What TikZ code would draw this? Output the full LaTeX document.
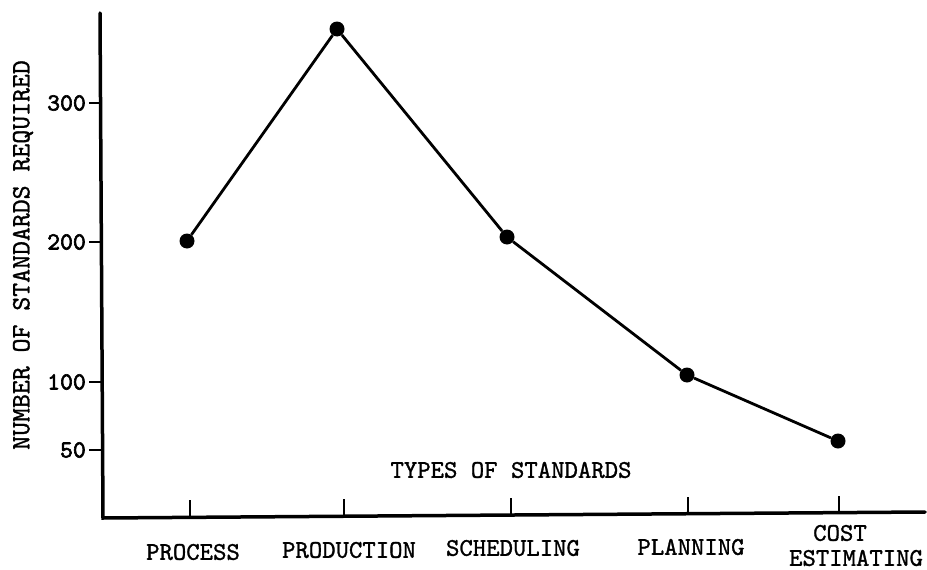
\documentclass[tikz,border=0pt]{standalone}
\usepackage{fontspec}
\newfontfamily\typewriter{lmmono10-regular.otf}[FakeBold=1.2]
\newfontfamily\tickface{lmmono10-regular.otf}[FakeBold=2.5]
\tikzset{dot/.style={circle,fill=black,inner sep=0pt,minimum size=15},
 lbl/.style={font=\typewriter\fontsize{25.5}{22}\selectfont,inner sep=0pt},
 ylbl/.style={font=\typewriter\fontsize{26.5}{22}\selectfont,inner sep=0pt,rotate=90},
 ticklbl/.style={font=\tickface\fontsize{24.5}{22}\selectfont,anchor=east,inner sep=0pt},
 axis/.style={line width=3.5,line cap=round},
 tick/.style={line width=2.6},
 }

\begin{document}
\begin{tikzpicture}[x=1pt,y=-1pt]
        \useasboundingbox (0,0) rectangle (927,570);
        \coordinate (ytop) at (100,13);
        \coordinate (orig) at (103,518);
        \coordinate (xend) at (925,512);
        \draw[axis] (ytop) -- (orig) -- (xend);
        \foreach \y/\v in {103/300,242/200,382/100,450/50} {
            \draw[tick] (89,\y) -- (102,\y);
            \node[ticklbl] (y\v) at (86,\y) {\v};
        }
        \foreach \x/\y in {190/517,344/516,511/515,688/514,839/513}
            \draw[tick] (\x,\y) -- (\x,\y-17);
        \node[dot] (process) at (187,241) {};
        \node[dot] (production) at (337,29) {};
        \node[dot] (scheduling) at (507,237) {};
        \node[dot] (planning) at (687,375) {};
        \node[dot] (costest) at (838,441) {};
        \draw[line width=2.8] (process) -- (production) -- (scheduling) -- (planning) -- (costest);
        \node[lbl] (lprocess) at (193,552) {PROCESS};
        \node[lbl] (lproduction) at (349,550) {PRODUCTION};
        \node[lbl] (lscheduling) at (513,548) {SCHEDULING};
        \node[lbl] (lplanning) at (691,547) {PLANNING};
        \node[lbl] (lcost) at (840,533) {COST};
        \node[lbl] (lestimating) at (856,558) {ESTIMATING};
        \node[lbl] (xtitle) at (511,470) {TYPES OF STANDARDS};
        \node[ylbl] (ytitle) at (23,255) {NUMBER OF STANDARDS REQUIRED};
    \end{tikzpicture}
\end{document}
